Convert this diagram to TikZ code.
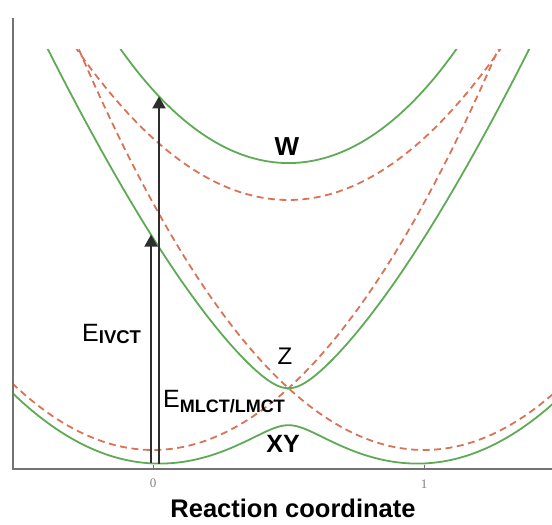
\documentclass[tikz,border=0pt]{standalone}
\usepackage{fontspec}
\setmainfont{Liberation Sans}
\newfontfamily\tickfont{Liberation Serif}
\usetikzlibrary{arrows.meta}
\definecolor{adiab}{RGB}{95,170,85}
\definecolor{diab}{RGB}{218,115,85}
\definecolor{axisgray}{RGB}{115,115,115}
\definecolor{arrowgray}{RGB}{45,45,45}
\begin{document}
\begin{tikzpicture}[x=1pt,y=1pt,
  declare function={
    dA(\t)=2.47*\t*\t;
    dB(\t)=2.47*(\t-1)*(\t-1);
    dC(\t)=2.5+2.47*(\t-0.5)*(\t-0.5);
    mq(\t)=(dA(\t)+dB(\t)+dC(\t))/3;
    pp(\t)=sqrt(((dA(\t)-mq(\t))*(dA(\t)-mq(\t))+(dB(\t)-mq(\t))*(dB(\t)-mq(\t))+(dC(\t)-mq(\t))*(dC(\t)-mq(\t))+4*0.416)/6);
    rr(\t)=((dA(\t)-mq(\t))*(dB(\t)-mq(\t))*(dC(\t)-mq(\t))-0.416*(dA(\t)-mq(\t))-0.416*(dB(\t)-mq(\t)))/(2*pp(\t)*pp(\t)*pp(\t));
    ph(\t)=acos(max(-1,min(1,rr(\t))))/3;
    eHi(\t)=mq(\t)+2*pp(\t)*cos(ph(\t));
    eMid(\t)=mq(\t)+2*pp(\t)*cos(ph(\t)+240);
    eLo(\t)=mq(\t)+2*pp(\t)*cos(ph(\t)+120);
  },
  adiabatic/.style={draw=adiab, line width=1.8pt},
  diabatic/.style={draw=diab, line width=1.8pt, dash pattern=on 7pt off 4.5pt},
  axisline/.style={draw=axisgray, line width=2.6pt},
  energyarrow/.style={draw=arrowgray, line width=2pt, -{Triangle[width=13pt,length=12pt]}},
  lab/.style={inner sep=0pt, text=black}
]
\useasboundingbox (0,0) rectangle (552,525);
% curves
\begin{scope}
  \clip (13,56) rectangle (552,475);
  \draw[diabatic] plot[domain=-0.55:1.5, samples=81] ({153+271*\x},{75+100*dA(\x)});
  \draw[diabatic] plot[domain=-0.55:1.5, samples=81] ({153+271*\x},{75+100*dB(\x)});
  \draw[diabatic] plot[domain=-0.55:1.5, samples=81] ({153+271*\x},{75+100*dC(\x)});
  \draw[adiabatic] plot[domain=-0.55:1.5, samples=121, smooth] ({153+271*\x},{75+100*eLo(\x)});
  \draw[adiabatic] plot[domain=-0.45:1.45, samples=161, smooth] ({153+271*\x},{75+100*eMid(\x)});
  \draw[adiabatic] plot[domain=-0.2:1.2, samples=101, smooth] ({153+271*\x},{75+100*eHi(\x)});
\end{scope}
% axes
\coordinate (origin) at (13,56);
\coordinate (ytop) at (13,507);
\coordinate (xend) at (552,56);
\draw[axisline] (ytop) -- (origin) -- (xend);
\coordinate (t0) at (153,56);
\coordinate (t1) at (424,56);
\draw[draw=axisgray, line width=1pt] (t0) -- ++(0,4);
\draw[draw=axisgray, line width=1pt] (t1) -- ++(0,4);
\node[lab, text=gray, font=\tickfont\fontsize{13}{15}\selectfont] (l0) at (153,42) {0};
\node[lab, text=gray, font=\tickfont\fontsize{13}{15}\selectfont] (l1) at (424,41) {1};
\node[lab, anchor=base, font=\bfseries\fontsize{25.5}{30}\selectfont] (xlabel) at (293,7) {Reaction coordinate};
% arrows
\coordinate (lowA) at (151,{75+100*eLo(-0.0074)});
\coordinate (tipA) at (151,{75+100*eMid(-0.0074)});
\coordinate (lowB) at (159,{75+100*eLo(0.0221)});
\coordinate (tipB) at (159,{75+100*eHi(0.0221)});
\draw[energyarrow] (lowA) -- (tipA);
\draw[energyarrow] (lowB) -- (tipB);
% labels
\node[lab, font=\bfseries\fontsize{26}{30}\selectfont] (W) at (287,378) {W};
\node[lab, font=\fontsize{24}{28}\selectfont] (Z) at (285,169) {Z};
\node[lab, font=\bfseries\fontsize{25}{30}\selectfont] (XY) at (283,81) {XY};
\node[lab, anchor=base west] (eivct) at (82,183) {\fontsize{25}{30}\selectfont E\raisebox{-2pt}{\fontsize{18.5}{20}\selectfont\bfseries IVCT}};
\node[lab, anchor=base west] (emlct) at (163,117) {\fontsize{25}{30}\selectfont E\raisebox{-5pt}{\fontsize{18}{20}\selectfont\bfseries MLCT/LMCT}};
\end{tikzpicture}
\end{document}
